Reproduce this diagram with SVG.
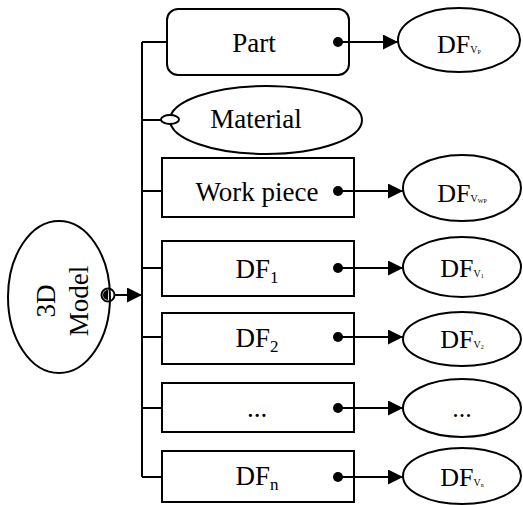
<svg xmlns="http://www.w3.org/2000/svg" width="523" height="505" viewBox="0 0 523 505">
<style>
.s{fill:#fff;stroke:#000;stroke-width:2}
.l{fill:none;stroke:#000;stroke-width:2}
.t{font-family:"Liberation Serif","Times New Roman",serif;font-size:27px;fill:#000;text-anchor:middle}
.e{font-size:26px}
.d{fill:#000}
</style>
<defs>
<marker id="ah" markerWidth="15" markerHeight="15" refX="15" refY="7.5" orient="auto" markerUnits="userSpaceOnUse">
<path d="M0,0 L15,7.5 L0,15 Z" fill="#000"/>
</marker>
</defs>
<g id="model">
<ellipse class="s" cx="59" cy="297" rx="51" ry="76"/>
<text class="t" transform="translate(46,301) rotate(-90)" y="9">3D</text>
<text class="t" transform="translate(79,301) rotate(-90)" y="9">Model</text>
</g>
<g id="part">
<rect class="s" x="167" y="9" width="182" height="66" rx="11"/>
<text class="t" x="254" y="52">Part</text>
</g>
<g id="material">
<ellipse class="s" cx="266" cy="120" rx="96" ry="34"/>
<text class="t" x="256" y="128">Material</text>
</g>
<g id="workpiece">
<rect class="s" x="162" y="158" width="192" height="59"/>
<text class="t" x="257" y="201">Work piece</text>
</g>
<g id="df1">
<rect class="s" x="162" y="241" width="192" height="55"/>
<text class="t" x="257" y="278">DF<tspan font-size="17" dy="5">1</tspan></text>
</g>
<g id="df2">
<rect class="s" x="162" y="313" width="192" height="51"/>
<text class="t" x="257" y="347">DF<tspan font-size="17" dy="5">2</tspan></text>
</g>
<g id="dfdots">
<rect class="s" x="162" y="383" width="192" height="49"/>
<text class="t" x="257" y="417">...</text>
</g>
<g id="dfn">
<rect class="s" x="162" y="451" width="192" height="51"/>
<text class="t" x="257" y="485">DF<tspan font-size="17" dy="5">n</tspan></text>
</g>
<g id="dfvp">
<ellipse class="s" cx="459" cy="40" rx="61" ry="32"/>
<text class="t e" x="459" y="53">DF<tspan font-size="10">V</tspan><tspan font-size="6" dy="1">P</tspan></text>
</g>
<g id="dfvwp">
<ellipse class="s" cx="462" cy="188" rx="59" ry="33"/>
<text class="t e" x="462" y="202">DF<tspan font-size="10">V</tspan><tspan font-size="6" dy="1">WP</tspan></text>
</g>
<g id="dfv1">
<ellipse class="s" cx="462" cy="267" rx="59" ry="30"/>
<text class="t e" x="462" y="277">DF<tspan font-size="10">V</tspan><tspan font-size="6" dy="1">1</tspan></text>
</g>
<g id="dfv2">
<ellipse class="s" cx="462" cy="339" rx="59" ry="27"/>
<text class="t e" x="462" y="348">DF<tspan font-size="10">V</tspan><tspan font-size="6" dy="1">2</tspan></text>
</g>
<g id="dfvdots">
<ellipse class="s" cx="462" cy="408" rx="59" ry="29"/>
<text class="t e" x="462" y="417">...</text>
</g>
<g id="dfvn">
<ellipse class="s" cx="462" cy="476" rx="59" ry="28"/>
<text class="t e" x="462" y="486">DF<tspan font-size="10">V</tspan><tspan font-size="6" dy="1">n</tspan></text>
</g>
<g id="connectors">
<path class="l" d="M142,42 V477"/>
<path class="l" d="M142,42 H167"/>
<path class="l" d="M142,120 H161"/>
<path class="l" d="M142,191 H162"/>
<path class="l" d="M142,268 H162"/>
<path class="l" d="M142,337 H162"/>
<path class="l" d="M142,408 H162"/>
<path class="l" d="M142,477 H162"/>
<ellipse cx="170" cy="119.5" rx="9" ry="4.5" fill="#fff" stroke="#000" stroke-width="2"/>
<path class="l" d="M114,295 H142" marker-end="url(#ah)"/>
<circle cx="108" cy="295" r="6.5" fill="none" stroke="#000" stroke-width="2"/>
<path d="M108,290 A5,5 0 0 0 108,300 Z" fill="#000"/>
<path class="l" d="M338,42 H398" marker-end="url(#ah)"/>
<path class="l" d="M338,191 H403" marker-end="url(#ah)"/>
<path class="l" d="M338,268 H403" marker-end="url(#ah)"/>
<path class="l" d="M338,337 H403" marker-end="url(#ah)"/>
<path class="l" d="M338,408 H403" marker-end="url(#ah)"/>
<path class="l" d="M338,477 H403" marker-end="url(#ah)"/>
<circle class="d" cx="338" cy="42" r="5"/>
<circle class="d" cx="338" cy="191" r="5"/>
<circle class="d" cx="338" cy="268" r="5"/>
<circle class="d" cx="338" cy="337" r="5"/>
<circle class="d" cx="338" cy="408" r="5"/>
<circle class="d" cx="338" cy="477" r="5"/>
</g>
</svg>
